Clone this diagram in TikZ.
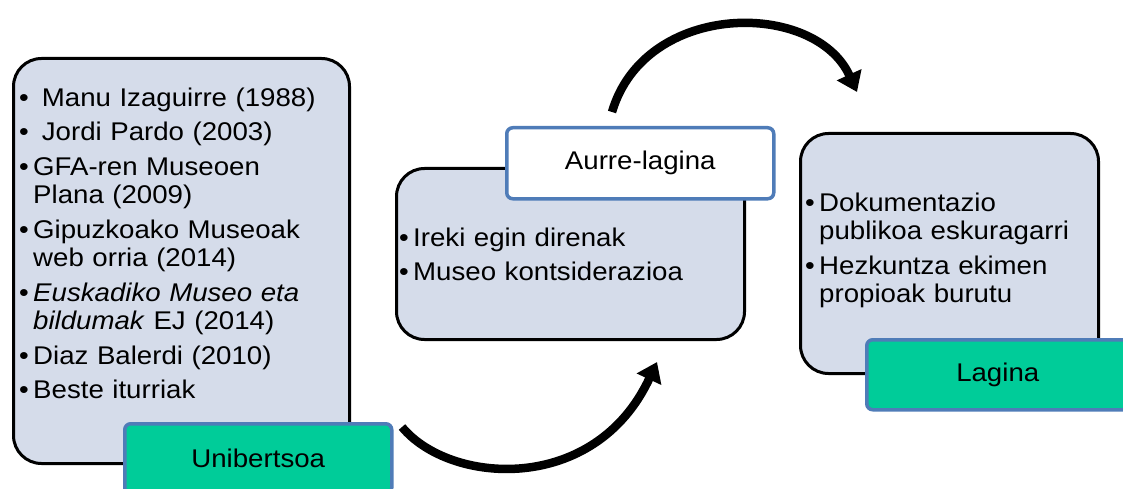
\documentclass[tikz,border=0pt]{standalone}
\usepackage{fontspec}
\setmainfont[FakeStretch=1.08]{Liberation Sans}
\usetikzlibrary{positioning, arrows.meta}
\definecolor{boxfill}{HTML}{D5DCEA}
\definecolor{tagfill}{HTML}{00CC99}
\definecolor{tagline}{HTML}{4F7CB8}
\newcommand\bitem{\par\hangindent=14pt\hangafter=1\noindent\makebox[14pt][l]{\textbullet}}

\begin{document}
\begin{tikzpicture}[x=1pt, y=-1pt, font=\fontsize{25.6}{28.5}\selectfont,
    stage/.style = {draw, line width=3pt, fill=boxfill, rounded corners=28pt, anchor=north west, inner sep=0},
    tag/.style = {draw=tagline, line width=3.5pt, rounded corners=6pt, anchor=north west, inner sep=0},
    items/.style = {anchor=north west, inner sep=0, text width=#1},
    flow/.style = {line width=8.5pt, -{Triangle[width=26pt,length=19pt]}}]
    \useasboundingbox (0,0) rectangle (1123,489);
    % left box
    \node[stage, minimum width=336pt, minimum height=405pt] (uni) at (12,57) {};
    \node[items=330pt] (unitxt) at (19,71.6) {\raggedright\parskip=6pt
        \bitem\hspace{8.7pt}Manu Izaguirre (1988)
        \bitem\hspace{8.7pt}Jordi Pardo (2003)
        \bitem GFA-ren Museoen\newline Plana (2009)
        \bitem Gipuzkoako Museoak\newline web orria (2014)
        \bitem\textit{Euskadiko Museo eta\newline bildumak} EJ (2014)
        \bitem Diaz Balerdi (2010)
        \bitem Beste iturriak\par};
    \node[tag, fill=tagfill, minimum width=267pt, minimum height=70pt] (unitag) at (123,422) {Unibertsoa};
    % middle box
    \node[stage, minimum width=348pt, minimum height=171pt] (aurre) at (395,167) {};
    \node[items=335pt] (aurretxt) at (399,211.7) {\raggedright\parskip=6pt
        \bitem Ireki egin direnak
        \bitem Museo kontsiderazioa\par};
    \node[tag, fill=white, minimum width=267pt, minimum height=71pt] (aurretag) at (505,126) {Aurre-lagina};
    % right box
    \node[stage, minimum width=298pt, minimum height=240pt] (lagin) at (799,132) {};
    \node[items=285pt] (lagintxt) at (805,176.6) {\raggedright\parskip=6pt
        \bitem Dokumentazio\newline publikoa eskuragarri
        \bitem Hezkuntza ekimen\newline propioak burutu\par};
    \node[tag, fill=tagfill, minimum width=262pt, minimum height=70pt] (lagintag) at (865,338) {Lagina};
    % arrows
    \coordinate (low0) at (402,427);
    \coordinate (low1) at (657,362);
    \coordinate (high0) at (612,112);
    \coordinate (high1) at (857,92);
    \draw[flow] (low0) .. controls (450,485) and (595,495) .. (low1);
    \draw[flow] (high0) .. controls (645,0) and (815,0) .. (high1);
\end{tikzpicture}
\end{document}
